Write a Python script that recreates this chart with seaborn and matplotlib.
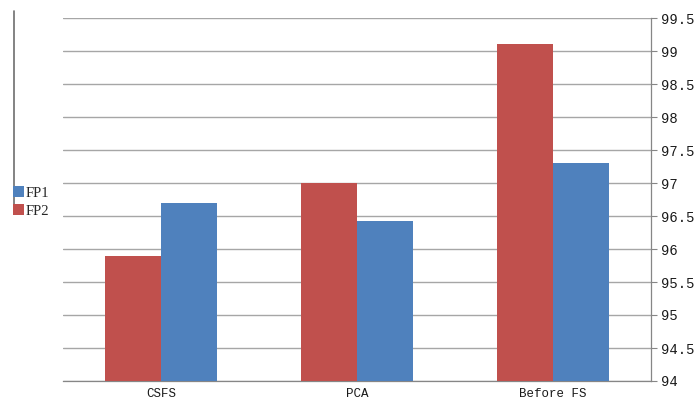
import matplotlib
matplotlib.use("Agg")
import matplotlib.pyplot as plt
from matplotlib.patches import Patch
from matplotlib.lines import Line2D
import pandas as pd
import seaborn as sns

categories = ["CSFS", "PCA", "Before FS"]
fp1 = [96.70, 96.43, 97.31]
fp2 = [95.90, 97.00, 99.10]
y_ticks = [94, 94.5, 95, 95.5, 96, 96.5, 97, 97.5, 98, 98.5, 99, 99.5]
y_tick_labels = ["94", "94.5", "95", "95.5", "96", "96.5", "97", "97.5", "98", "98.5", "99", "99.5"]

RED = "#C0504D"
BLUE = "#4F81BD"

df = pd.DataFrame({
    "method": categories * 2,
    "series": ["FP2"] * 3 + ["FP1"] * 3,
    "value": fp2 + fp1,
})

sns.set_style("white")
plt.rcParams["font.family"] = ["Liberation Mono", "DejaVu Sans"]

fig = plt.figure(figsize=(6.97, 4.03), dpi=100)
ax = fig.add_axes([63 / 697, 1 - 381 / 403, (651 - 63) / 697, (381 - 18) / 403])

sns.barplot(data=df, x="method", y="value", hue="series", hue_order=["FP2", "FP1"],
            order=categories, palette={"FP2": RED, "FP1": BLUE}, width=0.572,
            saturation=1, ax=ax, legend=False, zorder=3)

ax.set_ylim(94, 99.5)
ax.set_xlim(-0.5, 2.5)
ax.set_xlabel("")
ax.set_ylabel("")

# right-hand value axis with horizontal grid
ax.yaxis.tick_right()
ax.set_yticks(y_ticks)
ax.set_yticklabels(y_tick_labels, fontsize=10, color="#1a1a1a")
ax.tick_params(axis="y", which="major", direction="out", length=4, width=0.8,
               color="#868686", pad=3)
ax.yaxis.grid(True, color="#A6A6A6", linewidth=1.0, zorder=0)
ax.set_axisbelow(True)

# category axis: labels at centers, ticks at category boundaries
ax.set_xticks([0, 1, 2])
ax.set_xticklabels(categories, fontsize=9, color="#1a1a1a")
ax.set_xticks([-0.5, 0.5, 1.5, 2.5], minor=True)
ax.tick_params(axis="x", which="major", length=0, pad=5)
ax.tick_params(axis="x", which="minor", direction="out", length=4, width=0.8,
               color="#868686")

for side in ["top", "left"]:
    ax.spines[side].set_visible(False)
ax.spines["right"].set_color("#868686")
ax.spines["bottom"].set_color("#868686")
ax.spines["right"].set_linewidth(0.9)
ax.spines["bottom"].set_linewidth(0.9)

for p in ax.patches:
    p.set_edgecolor("none")

# thin vertical rule along the left edge
fig.add_artist(Line2D([14 / 697, 14 / 697], [1 - 11 / 403, 1 - 204 / 403],
                      transform=fig.transFigure, color="#6E6E6E", linewidth=1.2))

# legend at the left edge
handles = [Patch(facecolor=BLUE, edgecolor="none"), Patch(facecolor=RED, edgecolor="none")]
leg = fig.legend(handles, ["FP1", "FP2"], loc="upper left",
                 bbox_to_anchor=(13 / 697, 1 - 186 / 403), frameon=False,
                 handlelength=0.75, handleheight=0.8, handletextpad=0.1,
                 labelspacing=0.3, borderaxespad=0, borderpad=0,
                 prop={"family": ["Liberation Serif", "DejaVu Serif"], "size": 10.5})
leg.set_zorder(5)

fig.savefig("out.png", dpi=100, facecolor="white")
